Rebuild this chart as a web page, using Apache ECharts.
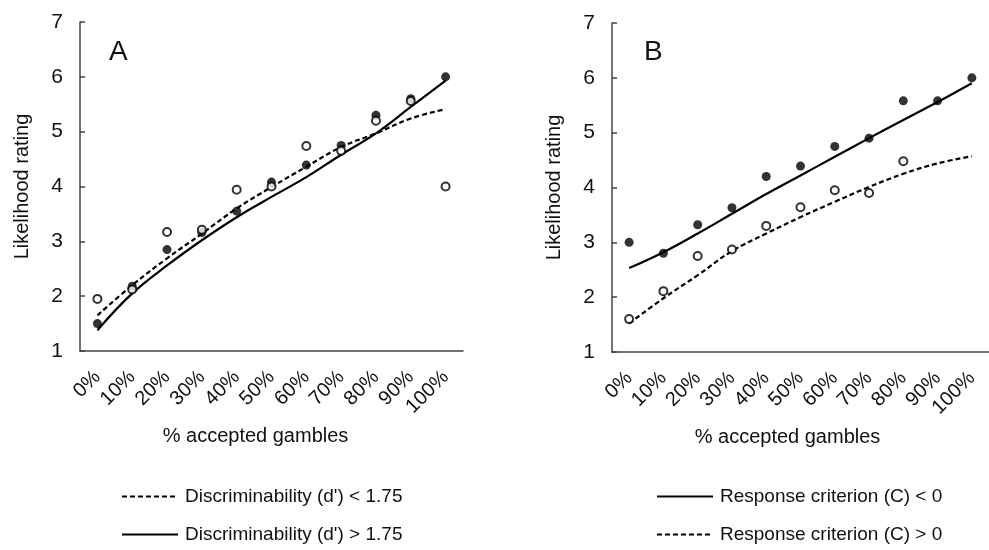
<!DOCTYPE html>
<html>
<head>
<meta charset="utf-8">
<script src="https://cdn.jsdelivr.net/npm/echarts@6/dist/echarts.min.js"></script>
<style>
  html, body { margin: 0; padding: 0; background: #fff; }
  #chart { width: 989px; height: 550px; }
</style>
</head>
<body>
<div id="chart"></div>
<script>
// categories on the x axis
const categories = ['0%', '10%', '20%', '30%', '40%', '50%', '60%', '70%', '80%', '90%', '100%'];
const yTicks = [1, 7, 1]; // min, max, interval

// panel A - discriminability
const aLowDots = [1.95, 2.12, 3.17, 3.21, 3.94, 4.0, 4.74, 4.65, 5.2, 5.56, 4.0];
const aHighDots = [1.5, 2.18, 2.85, 3.16, 3.55, 4.08, 4.39, 4.75, 5.3, 5.6, 6.0];
const aLowFit = [1.65, 2.2, 2.69, 3.14, 3.6, 3.99, 4.36, 4.72, 4.97, 5.24, 5.41];
const aHighFit = [1.38, 2.05, 2.56, 3.02, 3.44, 3.81, 4.17, 4.58, 4.97, 5.45, 5.93];

// panel B - response criterion
const bNegDots = [3.0, 2.8, 3.32, 3.63, 4.2, 4.39, 4.75, 4.9, 5.58, 5.58, 6.0];
const bPosDots = [1.6, 2.11, 2.75, 2.87, 3.3, 3.64, 3.95, 3.9, 4.48, null, null];
const bNegFit = [2.53, 2.82, 3.16, 3.52, 3.88, 4.22, 4.56, 4.9, 5.23, 5.56, 5.9];
const bPosFit = [1.52, 1.98, 2.4, 2.84, 3.16, 3.46, 3.74, 4.01, 4.25, 4.44, 4.57];

const names = {
  aLow: "Discriminability (d') < 1.75",
  aHigh: "Discriminability (d') > 1.75",
  bNeg: 'Response criterion (C) < 0',
  bPos: 'Response criterion (C) > 0'
};

const FONT = '"Liberation Sans", Arial, sans-serif';
const INK = '#111';
const AXIS = '#444';

// shiftLeft: the axis title sits a little left of the plot centre in the original
function xAxisFor(idx, shiftLeft) {
  return {
    type: 'category',
    gridIndex: idx,
    data: categories,
    boundaryGap: true,
    name: '% accepted gambles',
    nameLocation: 'middle',
    nameGap: 75,
    nameMoveOverlap: false,
    nameTextStyle: { color: INK, fontSize: 20, fontFamily: FONT, padding: [0, shiftLeft * 2, 0, 0] },
    axisLine: { lineStyle: { color: AXIS, width: 1.5 } },
    axisTick: { inside: true, length: 5, lineStyle: { color: AXIS, width: 1.5 } },
    axisLabel: { interval: 0, rotate: 45, margin: 23, color: INK, fontSize: 20, fontFamily: FONT },
    splitLine: { show: false }
  };
}

function yAxisFor(idx) {
  return {
    type: 'value',
    gridIndex: idx,
    min: yTicks[0],
    max: yTicks[1],
    interval: yTicks[2],
    name: 'Likelihood rating',
    nameLocation: 'middle',
    nameRotate: 90,
    nameGap: 48,
    nameTextStyle: { color: INK, fontSize: 20, fontFamily: FONT },
    axisLine: { show: true, lineStyle: { color: AXIS, width: 1.5 } },
    axisTick: { show: true, inside: true, length: 5, lineStyle: { color: AXIS, width: 1.5 } },
    axisLabel: { margin: 17, color: INK, fontSize: 21, fontFamily: FONT },
    splitLine: { show: false }
  };
}

function fitLine(name, data, idx, dashed) {
  return {
    name: name,
    type: 'line',
    xAxisIndex: idx,
    yAxisIndex: idx,
    data: data,
    smooth: 0.4,
    symbol: 'none',
    lineStyle: { color: '#000', width: 2.2, type: dashed ? [5, 3] : 'solid' },
    itemStyle: { color: '#000' },
    z: 3
  };
}

function dots(data, idx, open) {
  return {
    type: 'scatter',
    xAxisIndex: idx,
    yAxisIndex: idx,
    data: data,
    symbol: 'circle',
    symbolSize: open ? 8 : 9,
    itemStyle: open
      ? { color: '#fff', borderColor: '#000', borderWidth: 2 }
      : { color: '#000' },
    z: open ? 4 : 2
  };
}

// one legend per row so each sits exactly under its panel
function legendRow(name, left, top) {
  return {
    show: true,
    orient: 'horizontal',
    left: left,
    top: top,
    itemWidth: 56,
    itemHeight: 14,
    itemGap: 0,
    selectedMode: false,
    itemStyle: { opacity: 0 },
    textStyle: { color: INK, fontSize: 19, fontFamily: FONT, padding: [0, 0, 0, 2] },
    data: [name]
  };
}

const chart = echarts.init(document.getElementById('chart'), null, { renderer: 'canvas' });

chart.setOption({
  backgroundColor: '#fff',
  animation: false,
  title: [
    { text: 'A', left: 104, top: 33, textStyle: { fontSize: 28, fontWeight: 'normal', color: INK, fontFamily: FONT } },
    { text: 'B', left: 639, top: 33, textStyle: { fontSize: 28, fontWeight: 'normal', color: INK, fontFamily: FONT } }
  ],
  grid: [
    { left: 80, top: 22, width: 383, height: 329 },
    { left: 612, top: 23, width: 385, height: 329 }
  ],
  xAxis: [xAxisFor(0, 16), xAxisFor(1, 13)],
  yAxis: [yAxisFor(0), yAxisFor(1)],
  legend: [
    legendRow(names.aLow, 116, 482),
    legendRow(names.aHigh, 116, 520),
    legendRow(names.bNeg, 651, 482),
    legendRow(names.bPos, 651, 520)
  ],
  series: [
    dots(aHighDots, 0, false),
    dots(aLowDots, 0, true),
    fitLine(names.aLow, aLowFit, 0, true),
    fitLine(names.aHigh, aHighFit, 0, false),
    dots(bNegDots, 1, false),
    dots(bPosDots, 1, true),
    fitLine(names.bNeg, bNegFit, 1, false),
    fitLine(names.bPos, bPosFit, 1, true)
  ]
});
</script>
</body>
</html>
